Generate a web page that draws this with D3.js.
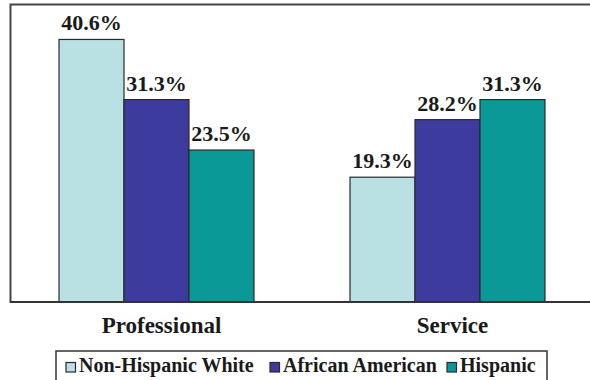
<!DOCTYPE html>
<html><head><meta charset="utf-8"><script src="https://cdn.jsdelivr.net/npm/d3@7"></script></head>
<body style="margin:0">
<svg id="s" width="590" height="380"></svg>
<script>
// Occupation categories and the share of each group employed in them (%)
const categories = ["Professional", "Service"];
const seriesNames = ["Non-Hispanic White", "African American", "Hispanic"];
const nonHispanicWhite = [40.6, 19.3];
const africanAmerican = [31.3, 28.2];
const hispanic = [23.5, 31.3];
const seriesColors = ["#b9e0e2", "#3d3b9d", "#0b9997"];

const seriesValues = [nonHispanicWhite, africanAmerican, hispanic];
const rows = categories.map((c, i) => ({
  category: c,
  values: seriesNames.map((s, j) => ({ series: s, value: seriesValues[j][i], idx: j }))
}));

const svg = d3.select("#s");

// Bold serif text helper
function label(parent, size) {
  return parent.append("text")
    .attr("font-family", "Liberation Serif")
    .attr("font-weight", "bold")
    .attr("font-size", size)
    .attr("fill", "#1a1a1a")
    .style("font-family", "'Liberation Serif'")
    .style("font-weight", "bold")
    .style("font-size", size + "px");
}

const frame = { left: 10.5, top: 4.5, right: 600, bottom: 302 };

const x0 = d3.scaleBand()
  .domain(categories)
  .range([11, 593])
  .paddingInner(0.33)
  .paddingOuter(0.165);

const x1 = d3.scaleBand()
  .domain(seriesNames)
  .range([0, x0.bandwidth()]);

const y = d3.scaleLinear()
  .domain([0, 45])
  .range([frame.bottom, 11]);

// Plot frame
svg.append("rect")
  .attr("x", frame.left).attr("y", frame.top)
  .attr("width", frame.right - frame.left)
  .attr("height", frame.bottom - frame.top)
  .attr("fill", "#fff")
  .attr("stroke", "#444")
  .attr("stroke-width", 2);

// Bars and value labels
rows.forEach(row => {
  const g = svg.append("g").attr("transform", `translate(${x0(row.category)},0)`);
  row.values.forEach(d => {
    g.append("rect")
      .attr("x", x1(d.series))
      .attr("y", y(d.value))
      .attr("width", x1.bandwidth())
      .attr("height", y(0) - y(d.value))
      .attr("fill", seriesColors[d.idx])
      .attr("stroke", "#2a2a2a")
      .attr("stroke-width", 1.2);
    label(g, 22)
      .attr("x", x1(d.series) + x1.bandwidth() / 2)
      .attr("y", y(d.value) - 9)
      .attr("text-anchor", "middle")
      .text(d.value.toFixed(1) + "%");
  });
  // category label under the group
  label(svg, 23)
    .attr("x", x0(row.category) + x0.bandwidth() / 2 + 5)
    .attr("y", frame.bottom + 31)
    .attr("text-anchor", "middle")
    .text(row.category);
});

// Baseline
svg.append("line")
  .attr("x1", frame.left).attr("x2", frame.right)
  .attr("y1", frame.bottom).attr("y2", frame.bottom)
  .attr("stroke", "#333").attr("stroke-width", 2);

// Legend
svg.append("rect")
  .attr("x", 56).attr("y", 351)
  .attr("width", 491).attr("height", 40)
  .attr("fill", "#fff")
  .attr("stroke", "#333")
  .attr("stroke-width", 1.5);

const legendX = [66, 270, 447];
seriesNames.forEach((name, i) => {
  svg.append("rect")
    .attr("x", legendX[i]).attr("y", 362.5)
    .attr("width", 9.5).attr("height", 9.5)
    .attr("fill", seriesColors[i])
    .attr("stroke", "#2a2a2a")
    .attr("stroke-width", 1.2);
  label(svg, 20)
    .attr("x", legendX[i] + 13)
    .attr("y", 372)
    .text(name);
});
</script></body></html>
